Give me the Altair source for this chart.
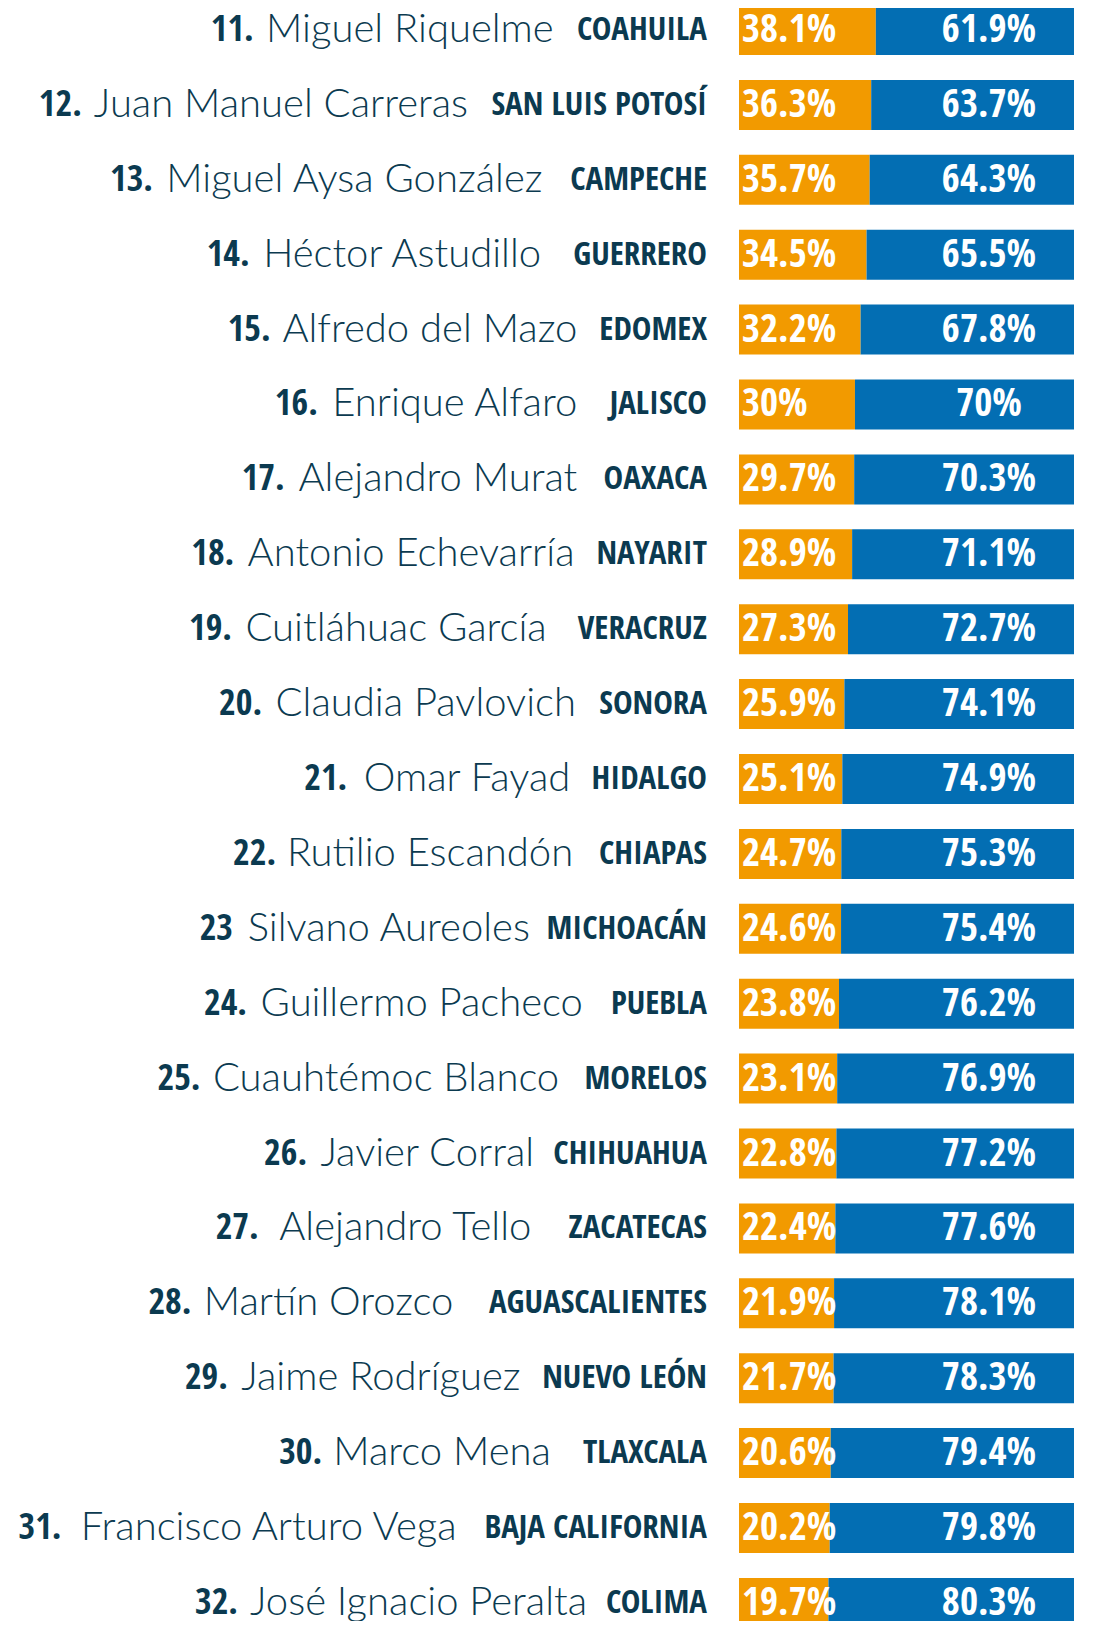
import unicodedata
import altair as alt
import pandas as pd

# ---------------- data ----------------
rangos = list(range(11, 33))
numeros = ["11.", "12.", "13.", "14.", "15.", "16.", "17.", "18.", "19.", "20.", "21.",
           "22.", "23", "24.", "25.", "26.", "27.", "28.", "29.", "30.", "31.", "32."]
gobernadores = ["Miguel Riquelme", "Juan Manuel Carreras", "Miguel Aysa González",
                "Héctor Astudillo", "Alfredo del Mazo", "Enrique Alfaro", "Alejandro Murat",
                "Antonio Echevarría", "Cuitláhuac García", "Claudia Pavlovich", "Omar Fayad",
                "Rutilio Escandón", "Silvano Aureoles", "Guillermo Pacheco", "Cuauhtémoc Blanco",
                "Javier Corral", "Alejandro Tello", "Martín Orozco", "Jaime Rodríguez",
                "Marco Mena", "Francisco Arturo Vega", "José Ignacio Peralta"]
estados = ["COAHUILA", "SAN LUIS POTOSÍ", "CAMPECHE", "GUERRERO", "EDOMEX", "JALISCO",
           "OAXACA", "NAYARIT", "VERACRUZ", "SONORA", "HIDALGO", "CHIAPAS", "MICHOACÁN",
           "PUEBLA", "MORELOS", "CHIHUAHUA", "ZACATECAS", "AGUASCALIENTES", "NUEVO LEÓN",
           "TLAXCALA", "BAJA CALIFORNIA", "COLIMA"]
aprueba = [38.1, 36.3, 35.7, 34.5, 32.2, 30, 29.7, 28.9, 27.3, 25.9, 25.1, 24.7, 24.6,
           23.8, 23.1, 22.8, 22.4, 21.9, 21.7, 20.6, 20.2, 19.7]
desaprueba = [61.9, 63.7, 64.3, 65.5, 67.8, 70, 70.3, 71.1, 72.7, 74.1, 74.9, 75.3, 75.4,
              76.2, 76.9, 77.2, 77.6, 78.1, 78.3, 79.4, 79.8, 80.3]

# ---------------- styles ----------------
NARANJA = "#F29A00"
AZUL = "#036EB3"
TINTA = "#0B3A50"
COND = "Open Sans Condensed"
LIGERA = "Lato"
SZ_ESTADO = 33
SZ_NUM = 36
SZ_NOMBRE = 40
SZ_PCT = 39

W, H = 1082, 1613
X0, X1 = 731, 1066          # pixel ends of the bar track
ESTADO_DER = 699            # right edge of state labels

# approximate glyph advance widths (per 1000 em) used to lay out the label line
_BOLD = dict(zip("ABCDEFGHIJKLMNOPQRSTUVWXYZ",
                 [722, 722, 722, 722, 667, 611, 778, 722, 278, 556, 722, 611, 833, 722,
                  778, 667, 778, 722, 667, 611, 722, 667, 944, 667, 667, 611]))
_BOLD.update({" ": 260, ".": 300, **{d: 660 for d in "0123456789"}})
_LIGHT = dict(zip("ABCDEFGHIJKLMNOPQRSTUVWXYZ",
                  [680, 630, 680, 740, 570, 550, 730, 750, 270, 380, 650, 500, 880, 750,
                   790, 600, 790, 630, 530, 590, 720, 680, 1000, 650, 630, 620]))
_LIGHT.update(dict(zip("abcdefghijklmnopqrstuvwxyz",
                       [490, 550, 460, 550, 520, 310, 490, 550, 230, 230, 490, 230, 830, 550,
                        550, 550, 550, 360, 410, 340, 550, 490, 740, 480, 490, 450])))
_LIGHT.update({" ": 260})


def ancho(texto, tabla, factor, size):
    base = unicodedata.normalize("NFD", texto)
    base = "".join(c for c in base if unicodedata.category(c) != "Mn")
    return sum(tabla.get(c, 556) for c in base) / 1000 * factor * size


df = pd.DataFrame({
    "rango": rangos,
    "numero": numeros,
    "nombre": gobernadores,
    "estado": estados,
    "aprueba": aprueba,
    "desaprueba": desaprueba,
})
df["etq_a"] = [f"{v:g}%" for v in aprueba]
df["etq_d"] = [f"{v:g}%" for v in desaprueba]
df["x_nombre"] = [ESTADO_DER - ancho(e, _BOLD, 0.76, SZ_ESTADO) - 21 for e in estados]
df["x_num"] = [xn - ancho(n, _LIGHT, 1.0, SZ_NOMBRE) - 11
               for xn, n in zip(df["x_nombre"], gobernadores)]

yscale = alt.Scale(domain=[10.7063, 32.2416], reverse=True, nice=False, zero=False)
xscale = alt.Scale(domain=[-15, 115], range=[X0, X1], nice=False, zero=False)

base = alt.Chart(df).transform_calculate(
    y0="datum.rango - 0.334", y1="datum.rango + 0.334"
)

bar_a = base.mark_bar(color=NARANJA).encode(
    x=alt.X("aprueba:Q", scale=xscale, axis=None),
    x2=alt.value(X0),
    y=alt.Y("y0:Q", scale=yscale, axis=None),
    y2="y1:Q",
)
bar_d = base.mark_bar(color=AZUL).encode(
    x=alt.X("aprueba:Q", scale=xscale, axis=None),
    x2=alt.value(X1),
    y=alt.Y("y0:Q", scale=yscale, axis=None),
    y2="y1:Q",
)

ytext = alt.Y("rango:Q", scale=yscale, axis=None)

txt_a = base.mark_text(align="left", baseline="middle", font=COND, fontWeight="bold",
                       fontSize=SZ_PCT, color="white").encode(
    x=alt.value(X0 + 3), y=ytext, text="etq_a:N")
txt_d = base.mark_text(align="center", baseline="middle", font=COND, fontWeight="bold",
                       fontSize=SZ_PCT, color="white").encode(
    x=alt.value(981), y=ytext, text="etq_d:N")
txt_estado = base.mark_text(align="right", baseline="middle", font=COND, fontWeight="bold",
                            fontSize=SZ_ESTADO, color=TINTA).encode(
    x=alt.value(ESTADO_DER), y=ytext, text="estado:N")
txt_nombre = base.mark_text(align="right", baseline="middle", font=LIGERA, fontWeight=300,
                            fontSize=SZ_NOMBRE, color=TINTA).encode(
    x=alt.X("x_nombre:Q", scale=None), y=ytext, text="nombre:N")
txt_num = base.mark_text(align="right", baseline="middle", font=COND, fontWeight="bold",
                         fontSize=SZ_NUM, color=TINTA).encode(
    x=alt.X("x_num:Q", scale=None), y=ytext, text="numero:N")

chart = alt.layer(bar_a, bar_d, txt_a, txt_d, txt_estado, txt_nombre, txt_num).properties(
    width=W, height=H, padding=0, autosize=alt.AutoSizeParams(type="none"),
    background="white",
).configure_view(stroke=None)

chart.save("out.html", embed_options={"renderer": "svg", "actions": False})
